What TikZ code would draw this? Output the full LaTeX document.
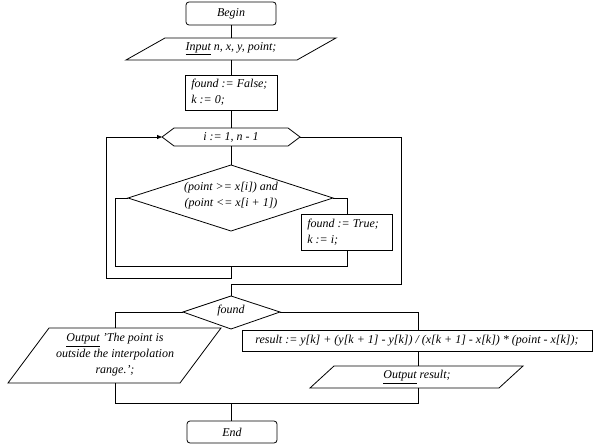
\documentclass[tikz,border=0pt]{standalone}
\usepackage{fontspec}
\setmainfont{Liberation Serif}
\usetikzlibrary{arrows.meta}
\begin{document}
\begin{tikzpicture}[x=1pt,y=-1pt,line width=0.8pt]
\tikzstyle{every node}=[font=\fontsize{12}{16}\selectfont\itshape, inner sep=0pt]
\tikzstyle{box}=[draw, rectangle]
\tikzstyle{term}=[draw, rounded corners=3pt]
\useasboundingbox (0,0) rectangle (600,444);

	% begin, input
	\draw[term] (186,2) rectangle (276,25); \node (begin) at (231,13.5) {Begin};
	\draw (165,38) -- (336,38) -- (297,60) -- (126,60) -- cycle;
	\node (input) at (231,49) {\underline{Input} n, x, y, point;};
	\draw[box] (185,75) rectangle (277,110);
	\node[align=left, anchor=west] (init) at (191,92.5) {found := False;\\ k := 0;};

	% loop header
	\draw (162,137) -- (174,128) -- (288,128) -- (300,137) -- (288,146) -- (174,146) -- cycle;
	\node (loop) at (231,137) {i := 1, n - 1};
	\coordinate (loopL) at (162,137); \coordinate (loopR) at (300,137);

	% condition
	\draw (231,165) -- (333,198) -- (231,231) -- (128,198) -- cycle;
	\node[align=center] (cond) at (231,196) {(point >= x[i]) and\\ (point <= x[i + 1])};
	\coordinate (condL) at (128,198); \coordinate (condR) at (333,198);
	\draw[box] (301,214) rectangle (392,250);
	\node[align=left, anchor=west] (yes) at (307,232) {found := True;\\ k := i;};

	% found
	\draw (231,296) -- (280,312) -- (231,329) -- (183,312) -- cycle;
	\node (found) at (231,311) {found};
	\coordinate (foundL) at (183,312); \coordinate (foundR) at (280,312);
	\draw (49,328) -- (221,328) -- (180,383) -- (8,383) -- cycle;
	\node[align=center] (msg) at (115,355) {\underline{Output} 'The point is\\ outside the interpolation\\ range.';};
	\draw[box] (242,330) rectangle (592,351);
	\node (res) at (417,340.5) {result := y[k] + (y[k + 1] - y[k]) / (x[k + 1] - x[k]) * (point - x[k]);};
	\draw (334,366) -- (523,366) -- (499,388) -- (310,388) -- cycle;
	\node (out) at (417,377) {\underline{Output} result;};
	\draw[term] (187,421) rectangle (277,443); \node (end) at (232,432) {End};

	% connectors
	\draw (231,25) -- (231,38); \draw (231,60) -- (231,75); \draw (231,110) -- (231,128);
	\draw (231,146) -- (231,165);
	\draw (condL) -- (115,198) -- (115,266) -- (347,266) -- (347,250);
	\draw (condR) -- (347,198) -- (347,214);
	\draw[-{Triangle[length=5pt,width=4pt]}] (231,266) -- (231,278) -- (106,278) -- (106,137) -- (loopL);
	\draw (loopR) -- (401,137) -- (401,284) -- (231,284) -- (231,296);
	\draw (foundL) -- (115,312) -- (115,328);
	\draw (foundR) -- (418,312) -- (418,330);
	\draw (418,351) -- (418,366);
	\draw (115,383) -- (115,403) -- (418,403) -- (418,388);
	\draw (231,403) -- (231,421);
\end{tikzpicture}
\end{document}
